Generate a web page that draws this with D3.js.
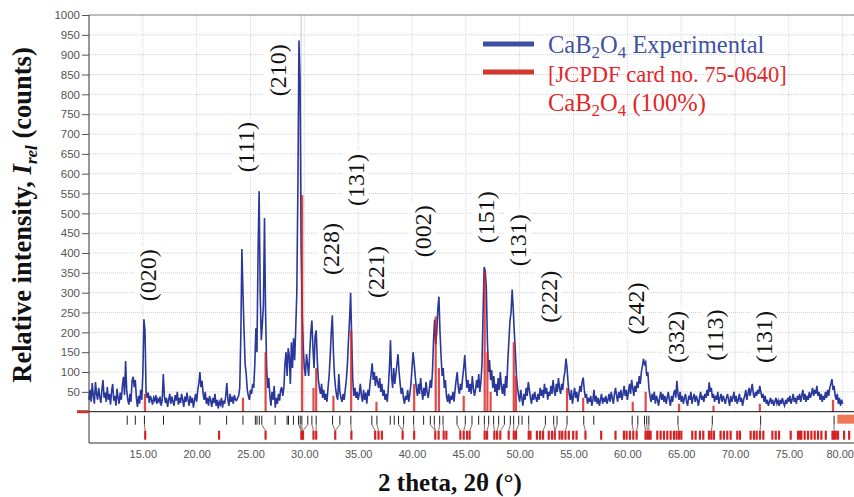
<!DOCTYPE html>
<html>
<head>
<meta charset="utf-8">
<script src="https://cdn.jsdelivr.net/npm/d3@7"></script>
<style>
  body { margin: 0; background: #fff; }
  svg { display: block; }
</style>
</head>
<body>
<script>
// experimental scan, 10.0 -> 80.0 deg at 0.1 deg steps (one row per degree)
const startAngle = 10.0, stepAngle = 0.1;
const intensity = [
  30,55,25,72,40,20,75,45,30,60,
  38,22,55,80,35,48,25,62,30,45,
  18,52,70,28,40,15,58,35,20,48,
  30,65,88,42,128,55,30,18,45,25,
  78,88,62,80,35,12,40,20,55,30,
  95,233,205,50,35,48,22,40,30,18,
  35,28,42,20,32,25,38,15,30,95,
  40,22,35,12,30,45,20,38,25,15,
  42,28,50,18,35,22,45,30,12,38,
  25,48,30,15,40,22,35,10,30,45,
  25,55,70,100,62,78,45,30,50,20,
  35,15,40,28,12,35,22,45,15,30,
  8,25,18,35,10,28,20,40,72,30,
  15,45,25,38,20,42,30,28,35,40,
  60,190,410,300,205,120,95,55,40,30,
  55,45,70,60,120,210,150,400,556,300,
  180,220,270,488,250,110,60,85,40,15,
  50,30,65,10,35,20,45,28,55,62,
  40,60,120,150,90,160,140,70,175,110,
  185,130,210,300,560,936,840,420,250,160,
  110,90,145,120,90,150,200,230,160,110,
  190,205,130,80,60,45,70,35,55,30,
  45,25,60,90,140,200,243,150,90,60,
  40,30,95,50,35,25,45,30,55,80,
  120,180,232,300,180,80,40,60,35,50,
  30,45,70,40,25,55,30,48,20,55,
  40,70,95,122,80,100,65,90,75,60,
  85,50,70,40,55,30,45,25,60,110,
  180,90,60,110,70,95,120,145,100,70,
  45,60,35,20,40,30,55,25,45,70,
  110,150,122,90,60,40,70,45,85,55,
  30,60,40,75,50,35,55,80,60,100,
  180,232,170,200,260,290,200,140,90,110,
  60,80,40,25,45,20,40,30,50,25,
  55,80,100,60,45,70,55,85,110,143,
  95,60,80,50,70,45,90,60,40,55,
  80,60,95,50,75,120,250,365,355,315,
  180,100,130,80,105,60,90,50,70,40,
  85,55,100,65,45,70,40,90,60,130,
  180,230,250,308,260,200,150,90,60,40,
  25,55,35,15,45,30,60,40,75,55,
  35,20,45,30,50,35,25,45,30,60,
  40,55,35,70,45,60,30,50,40,65,
  45,80,55,40,70,50,85,60,45,70,
  55,85,100,134,110,70,45,30,55,20,
  40,60,35,50,25,45,65,50,75,86,
  55,35,45,20,35,25,40,15,30,55,
  25,40,20,35,15,30,45,20,35,25,
  40,20,30,45,25,50,35,20,45,60,
  40,25,50,35,55,30,45,65,40,55,
  30,50,70,45,80,60,40,65,50,75,
  60,90,70,100,115,133,120,125,90,100,
  60,40,25,45,30,50,20,40,30,15,
  35,50,30,45,25,40,20,35,50,30,
  15,40,25,45,55,35,78,45,30,50,
  25,40,20,35,45,25,15,40,30,50,
  20,35,45,25,40,30,15,35,50,30,
  40,25,45,35,55,40,74,50,60,35,
  45,25,40,30,50,20,35,45,25,40,
  30,20,35,45,30,15,40,25,35,50,
  25,40,20,30,45,25,35,15,30,40,
  55,30,45,60,40,55,70,45,35,50,
  40,55,45,65,50,35,45,25,40,20,
  30,15,25,35,20,30,15,25,35,20,
  28,15,30,20,35,22,15,30,20,35,
  25,40,20,30,45,25,35,20,40,30,
  45,25,40,55,30,45,25,40,30,50,
  35,45,60,40,55,45,65,40,50,30,
  45,25,40,30,50,35,55,40,60,70,
  82,55,65,40,30,45,20,35,15,30,
  20
];

// JCPDS 75-0640 reference sticks
const refAngles    = [15.2, 24.3, 26.4, 29.8, 30.85, 31.1, 32.7, 34.35, 36.7, 40.2, 42.2, 42.5, 44.8, 46.75, 47.0, 47.3, 49.45, 49.65, 54.4, 55.9, 60.5, 61.7, 64.8, 68.0, 72.3, 79.1];
const refIntensity = [45, 35, 150, 546, 60, 110, 40, 205, 25, 70, 240, 110, 40, 355, 150, 50, 175, 90, 60, 35, 25, 50, 20, 15, 20, 30];

// peak position markers below the pattern
const phaseTicks = [13.55, 14.3, 15.15, 16.92, 20.3, 22.78, 24.3, 25.45, 25.6, 25.82, 26.05, 27.29, 28.4, 28.53, 28.99, 29.46, 29.62, 29.77,
  30.32, 30.7, 31.1, 32.62, 33.3, 34.32, 36.27, 36.74, 37.98, 38.35, 38.75, 39.22, 40.15, 41.08, 41.7, 42.07, 42.57, 42.88,
  44.18, 44.95, 45.57, 46.19, 46.72, 47.12, 47.58, 48.05, 48.58, 49.13, 49.44, 49.91, 50.22, 50.84, 52.39, 53.16, 53.47,
  54.4, 55.95, 56.88, 60.45, 60.97, 61.59, 61.8, 62.0, 64.7, 67.89, 72.38, 79.2];
const refTicks = [15.22, 22.08, 26.4, 29.72, 29.8, 29.88, 30.85, 31.1, 32.87, 34.37, 36.58, 36.89, 37.2, 39.13, 40.2,
  42.16, 42.47, 42.94, 43.19, 44.49, 44.8, 45.11, 45.35, 46.75, 46.97, 47.65, 47.9, 48.2, 48.98, 49.45, 49.66, 50.84,
  51.0, 51.6, 51.9, 52.17, 52.7, 53.0, 53.26, 53.7, 53.95, 54.25, 54.56, 54.97, 55.28, 56.11, 57.57, 58.9, 59.68, 59.93,
  60.24, 60.55, 60.86, 61.69, 61.85, 62.0, 62.16, 62.78, 63.09, 63.4, 63.71, 64.02, 64.33, 64.57, 64.79, 65.01, 66.03,
  66.34, 66.74, 67.05, 67.58, 67.8, 68.04, 68.66, 68.97, 69.28, 69.59, 70.21, 70.46, 71.45, 71.76, 72.01, 72.32, 72.63,
  73.47, 73.78, 74.09, 75.17, 75.85, 76.04, 76.16, 76.47, 76.78, 77.09, 77.4, 77.71, 78.02, 78.43, 79.05, 79.2, 79.36,
  79.57, 80.13, 80.6];

const hklLabels = ['(020)', '(111)', '(210)', '(228)', '(131)', '(221)', '(002)', '(151)', '(131)', '(222)', '(242)', '(332)', '(113)', '(131)'];
const hklAngles = [15.48, 24.5, 27.48, 32.4, 34.73, 36.59, 40.96, 46.81, 49.79, 52.67, 60.76, 64.48, 68.1, 72.66];
const hklCounts = [344, 667, 861, 410, 584, 352, 455, 490, 432, 290, 260, 188, 193, 188];

const xTickValues = [15, 20, 25, 30, 35, 40, 45, 50, 55, 60, 65, 70, 75, 80];
const yTickValues = [50, 100, 150, 200, 250, 300, 350, 400, 450, 500, 550, 600, 650, 700, 750, 800, 850, 900, 950, 1000];
const cursorAngle = 29.7;

const width = 854, height = 497;
const serif = "'Liberation Serif','Times New Roman',Times,serif";
const sans = "'Liberation Sans',Arial,Helvetica,sans-serif";

const x = d3.scaleLinear().domain([10, 81.05]).range([89, 854]);
const y = d3.scaleLinear().domain([0, 1000]).range([411.7, 15]);
const axisBottomY = 443;

const svg = d3.select('body').append('svg')
    .attr('width', width)
    .attr('height', height);

const defs = svg.append('defs');
defs.append('filter').attr('id', 'shadow')
    .append('feGaussianBlur').attr('stdDeviation', 1.2);

// grid
svg.append('g').selectAll('line')
    .data(yTickValues).join('line')
    .attr('x1', x(10)).attr('x2', width)
    .attr('y1', d => y(d)).attr('y2', d => y(d))
    .attr('stroke', '#cfcfcf').attr('stroke-dasharray', '1,1');
svg.append('g').selectAll('line')
    .data(xTickValues).join('line')
    .attr('x1', d => x(d)).attr('x2', d => x(d))
    .attr('y1', y(1000)).attr('y2', y(0))
    .attr('stroke', '#d6d6d6').attr('stroke-dasharray', '1,1');

// cursor line
svg.append('line')
    .attr('x1', x(cursorAngle)).attr('x2', x(cursorAngle))
    .attr('y1', y(1000)).attr('y2', y(0))
    .attr('stroke', '#c4c4c4').attr('stroke-width', 1);

// hkl labels with white boxes
const lab = svg.append('g').selectAll('g')
    .data(hklLabels).join('g')
    .attr('transform', (d, i) => `translate(${x(hklAngles[i])},${y(hklCounts[i])}) rotate(-90)`);
lab.append('text')
    .attr('text-anchor', 'middle')
    .attr('dy', '0.35em')
    .style('font-family', serif)
    .style('font-size', '24px')
    .attr('fill', '#111')
    .text(d => d);
lab.each(function() {
    const t = d3.select(this).select('text').node();
    const len = t.getComputedTextLength();
    d3.select(this).insert('rect', 'text')
        .attr('x', -len / 2 - 3).attr('y', -13)
        .attr('width', len + 6).attr('height', 26)
        .attr('fill', '#fff');
});

// experimental pattern
const pattern = intensity.map((v, i) => ({ a: startAngle + i * stepAngle, v: v }));
const line = d3.line().x(d => x(d.a)).y(d => y(d.v));
svg.append('path')
    .datum(pattern)
    .attr('d', line)
    .attr('fill', 'none')
    .attr('stroke', '#29389a')
    .attr('stroke-width', 1.6)
    .attr('stroke-linejoin', 'miter');

// reference sticks
svg.append('g').selectAll('line')
    .data(refAngles).join('line')
    .attr('x1', d => x(d)).attr('x2', d => x(d))
    .attr('y1', y(0)).attr('y2', (d, i) => y(refIntensity[i]))
    .attr('stroke', '#d81e1e').attr('stroke-width', 2.2).attr('opacity', 0.8);

// zero line and frame
svg.append('line').attr('x1', x(10)).attr('x2', width)
    .attr('y1', y(0)).attr('y2', y(0)).attr('stroke', '#111');
svg.append('line').attr('x1', x(10)).attr('x2', width)
    .attr('y1', y(1000)).attr('y2', y(1000)).attr('stroke', '#888');
svg.append('line').attr('x1', x(10)).attr('x2', x(10))
    .attr('y1', y(1000)).attr('y2', axisBottomY).attr('stroke', '#333');
svg.append('line').attr('x1', x(10)).attr('x2', width)
    .attr('y1', axisBottomY).attr('y2', axisBottomY).attr('stroke', '#333');

// little markers at the edges
svg.append('line').attr('x1', 77).attr('x2', x(10))
    .attr('y1', y(0)).attr('y2', y(0))
    .attr('stroke', '#c0392b').attr('stroke-width', 3);
svg.append('rect')
    .attr('x', x(79.5)).attr('y', y(0) + 3)
    .attr('width', width - x(79.5)).attr('height', 9)
    .attr('fill', '#ee7a5a');

// tick rows
const row1 = [y(0) + 4, y(0) + 13];
const row2 = [y(0) + 19, y(0) + 28];
svg.append('g').selectAll('line')
    .data(phaseTicks).join('line')
    .attr('x1', d => x(d)).attr('x2', d => x(d))
    .attr('y1', row1[0]).attr('y2', row1[1])
    .attr('stroke', '#222').attr('stroke-width', 1);
svg.append('g').selectAll('line')
    .data(refTicks).join('line')
    .attr('x1', d => x(d)).attr('x2', d => x(d))
    .attr('y1', row2[0]).attr('y2', row2[1])
    .attr('stroke', '#d42222').attr('stroke-width', 2.2);
// connectors
const links = [];
phaseTicks.forEach(p => {
    const r = refTicks.reduce((a, b) => Math.abs(b - p) < Math.abs(a - p) ? b : a);
    if (Math.abs(r - p) < 0.5) links.push([p, r]);
});
svg.append('g').selectAll('line')
    .data(links).join('line')
    .attr('x1', d => x(d[0])).attr('x2', d => x(d[1]))
    .attr('y1', row1[1]).attr('y2', row2[0])
    .attr('stroke', '#8a6a6a').attr('stroke-width', 1);

// axes
const yAxis = svg.append('g')
    .attr('transform', `translate(${x(10)},0)`)
    .call(d3.axisLeft(y).tickValues(yTickValues).tickSize(7).tickPadding(2)
        .tickSizeOuter(0).tickFormat(d3.format('d')));
yAxis.select('.domain').remove();
yAxis.selectAll('line').attr('stroke', '#555');
yAxis.selectAll('text')
    .style('font-family', sans).style('font-size', '11.5px').attr('fill', '#555');

const xAxis = svg.append('g')
    .attr('transform', `translate(0,${axisBottomY})`)
    .call(d3.axisBottom(x).tickValues(xTickValues).tickSize(0).tickPadding(7).tickFormat(d3.format('.2f')));
xAxis.select('.domain').remove();
xAxis.selectAll('text')
    .style('font-family', sans).style('font-size', '11px').attr('fill', '#555');
xAxis.selectAll('.tick').filter(d => d === 80).select('text').attr('dx', -3);

// axis titles
const yTitle = svg.append('text')
    .attr('transform', 'translate(31,215) rotate(-90)')
    .attr('text-anchor', 'middle')
    .style('font-family', serif).style('font-size', '26.5px').style('font-weight', 'bold')
    .attr('fill', '#111');
yTitle.append('tspan').text('Relative intensity, ');
yTitle.append('tspan').style('font-style', 'italic').text('I');
yTitle.append('tspan').style('font-style', 'italic').style('font-size', '17px').attr('dy', 6).text('rel');
yTitle.append('tspan').attr('dy', -6).text(' (counts)');

svg.append('text')
    .attr('x', 450).attr('y', 491)
    .attr('text-anchor', 'middle')
    .style('font-family', serif).style('font-size', '25px').style('font-weight', 'bold')
    .attr('fill', '#111')
    .text('2 theta, 2θ (°)');

// legend
const legend = svg.append('g');
const legendRows = [
    { y: 44, color: '#3c4fa3' },
    { y: 72, color: '#d13a2c' }
];
legendRows.forEach(r => {
    legend.append('line').attr('x1', 484).attr('x2', 534)
        .attr('y1', r.y + 3).attr('y2', r.y + 3)
        .attr('stroke', '#777').attr('stroke-width', 5).attr('filter', 'url(#shadow)');
    legend.append('line').attr('x1', 483).attr('x2', 534)
        .attr('y1', r.y).attr('y2', r.y)
        .attr('stroke', r.color).attr('stroke-width', 5);
});

function formula(color, xx, yy, rest) {
    const tx = legend.append('text').attr('x', xx).attr('y', yy)
        .style('font-family', serif).style('font-size', '24.5px').attr('fill', color);
    tx.append('tspan').text('CaB');
    tx.append('tspan').style('font-size', '17px').attr('dy', 5).text('2');
    tx.append('tspan').attr('dy', -5).text('O');
    tx.append('tspan').style('font-size', '17px').attr('dy', 5).text('4');
    tx.append('tspan').attr('dy', -5).text(rest);
    return tx;
}
formula('#3f51a3', 548, 53, ' Experimental');
legend.append('text').attr('x', 548).attr('y', 82)
    .style('font-family', serif).style('font-size', '22.5px').attr('fill', '#e3262a')
    .text('[JCPDF card no. 75-0640]');
formula('#e3262a', 548, 111, ' (100%)');
</script>
</body>
</html>
